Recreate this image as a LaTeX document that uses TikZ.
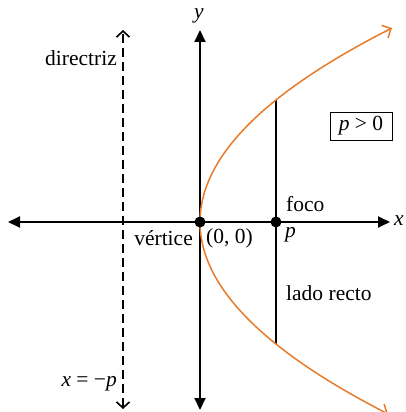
\documentclass[tikz,border=0pt]{standalone}
\usepackage{fontspec}
\setmainfont{Liberation Serif}
\usetikzlibrary{arrows.meta}
\definecolor{parab}{HTML}{E87B2A}
\tikzset{
  axis/.style={line width=1.8pt, -{Triangle[length=12pt,width=11pt]}},
  lbl/.style={font=\fontsize{21.5}{24}\selectfont, inner sep=0pt},
  dot/.style={circle, fill=black, inner sep=0pt, minimum size=11pt},
}
\begin{document}
\begin{tikzpicture}[x=1pt,y=-1pt]
\useasboundingbox (0,0) rectangle (406,412);
% coordinates
\coordinate (O) at (200,222);
\coordinate (F) at (276,222);
\coordinate (xl) at (8,222);
\coordinate (xr) at (390,222);
\coordinate (yt) at (200,30);
\coordinate (yb) at (200,410);
\coordinate (dt) at (123,30);
\coordinate (db) at (123,409);
\coordinate (Lt) at (276,100);
\coordinate (Lb) at (276,344);
% axes
\draw[axis] (O) -- (xr);
\draw[axis] (O) -- (xl);
\draw[axis] (O) -- (yt);
\draw[axis] (O) -- (yb);
% directrix
\draw[line width=1.6pt, dash pattern=on 9pt off 5pt, {Straight Barb[length=6pt,width=13pt]}-{Straight Barb[length=6pt,width=13pt]}] (db) -- (dt);
% latus rectum
\draw[line width=1.2pt] (Lt) -- (Lb);
% parabola
\draw[parab, line width=1.5pt, {Straight Barb[length=7pt,width=14pt]}-{Straight Barb[length=7pt,width=14pt]}, smooth, samples=80, domain=-194:192, variable=\t]
  plot ({200+(\t/14)*(\t/14)},{222+\t});
% dots
\node[dot] (v) at (O) {};
\node[dot] (f) at (F) {};
% labels
\node[lbl, anchor=east] (dir) at (117,58) {directriz};
\node[lbl] (ylab) at (199,16) {\textit{y}};
\node[lbl] (xlab) at (399,221) {\textit{x}};
\node[lbl, draw, line width=0.8pt, inner xsep=6pt, inner ysep=4pt, minimum width=62pt, minimum height=28pt] (pbox) at (361,126) {\textit{p} > 0};
\node[lbl, anchor=west] (foco) at (286,204) {foco};
\node[lbl, anchor=west] (plab) at (285,235) {\textit{p}};
\node[lbl, anchor=east] (vert) at (193,238) {vértice};
\node[lbl, anchor=west] (orig) at (206,238) {(0, 0)};
\node[lbl, anchor=west] (lado) at (286,293) {lado recto};
\node[lbl, anchor=east] (xeq) at (117,384) {\textit{x} = −\textit{p}};
\end{tikzpicture}
\end{document}
